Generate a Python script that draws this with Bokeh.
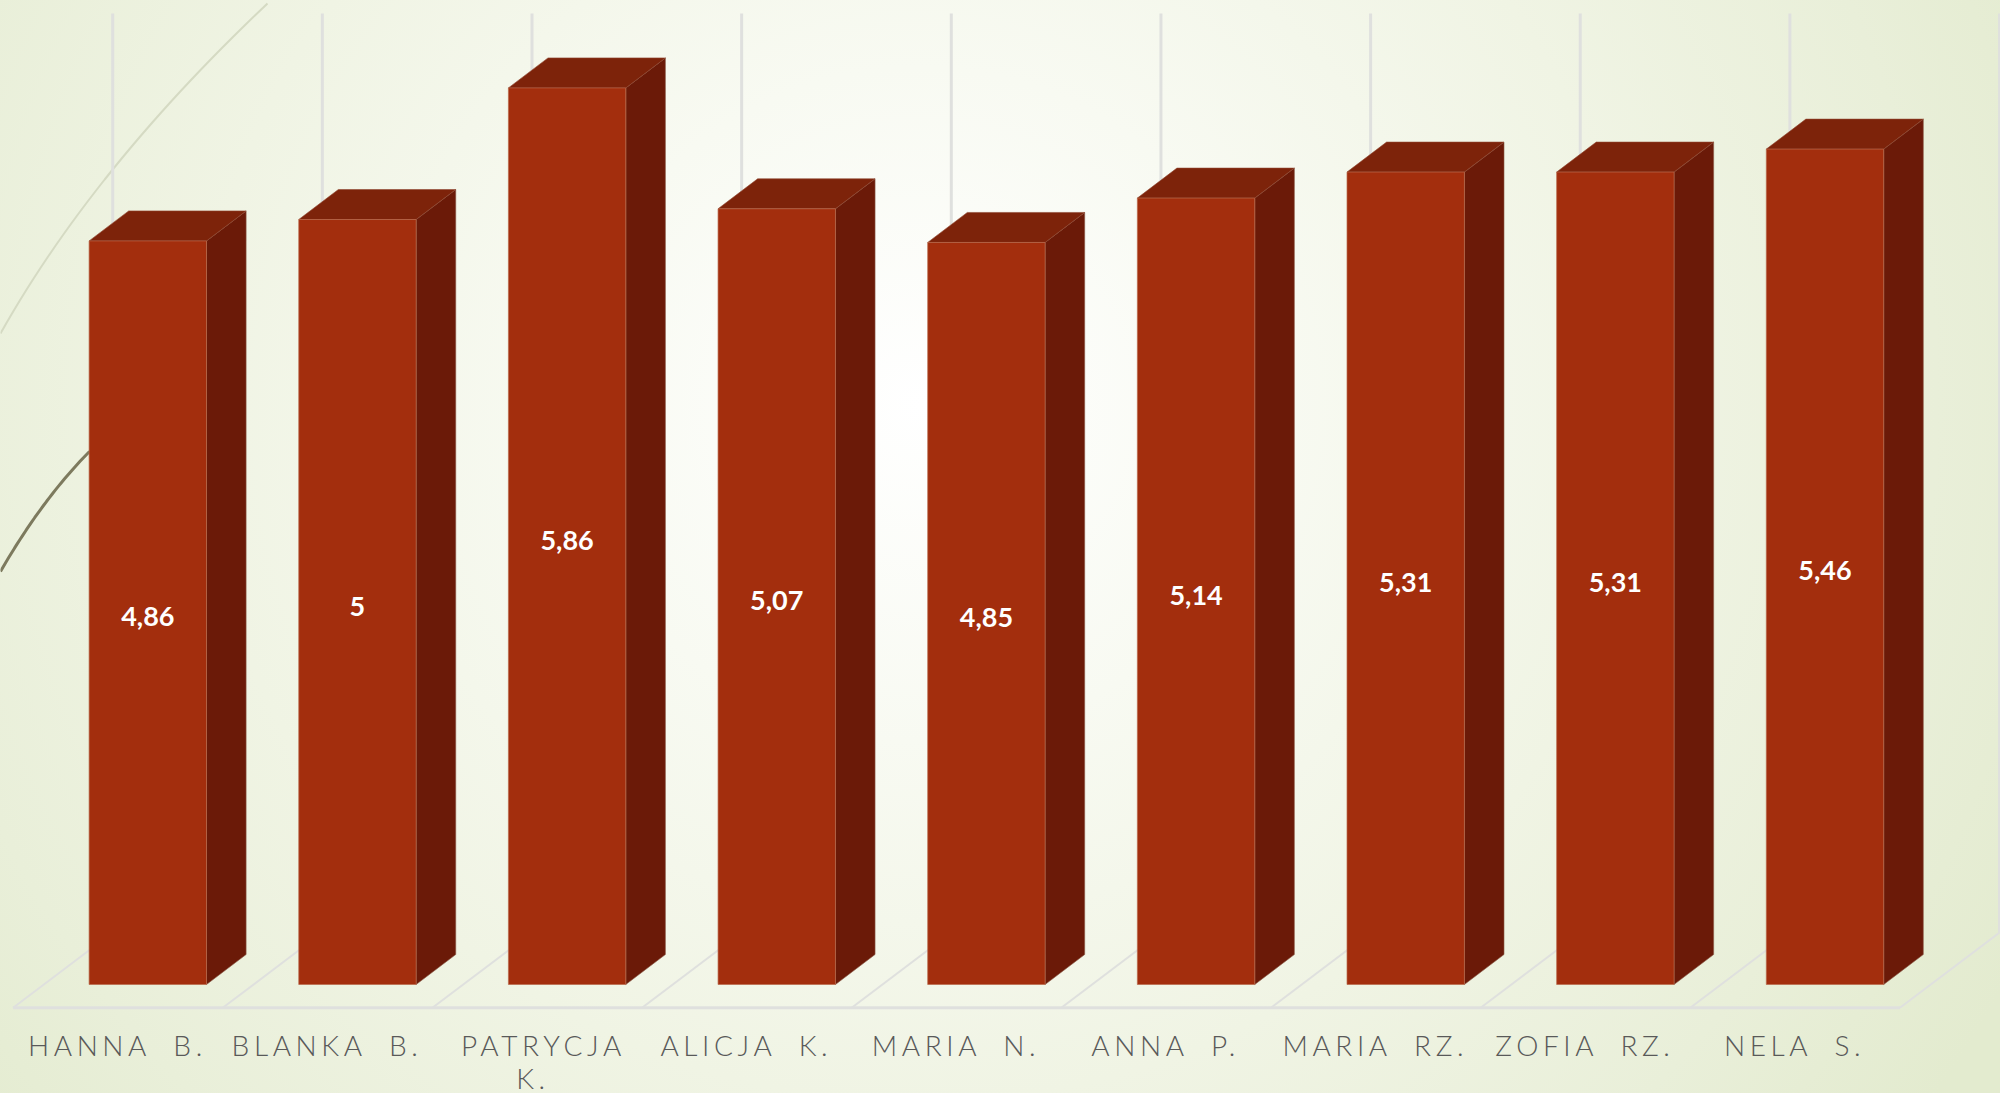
from bokeh.plotting import figure
from bokeh.layouts import column
from bokeh.embed import file_html
from bokeh.resources import INLINE
from bokeh.core.properties import value
from bokeh.models import Range1d

names = ["HANNA B.", "BLANKA B.", "PATRYCJA\nK.", "ALICJA K.", "MARIA N.", "ANNA P.", "MARIA RZ.", "ZOFIA RZ.", "NELA S."]
scores = [4.86, 5.00, 5.86, 5.07, 4.85, 5.14, 5.31, 5.31, 5.46]
score_labels = ["4,86", "5", "5,86", "5,07", "4,85", "5,14", "5,31", "5,31", "5,46"]

W, H = 2000, 1093
FRAME_H = 1012
X_STEP, X0 = 209.65, 147.3     # px per category, px of first bar centre
Y_UNIT, Y0 = 153.0, 984.0      # px per unit, px of value 0
BAR_W = 117.4 / X_STEP
DX, DY = 39.6 / X_STEP, 30.0 / Y_UNIT
LETTER, WORD = 4.6, 11         # label spacing, px
px = lambda x: (x - X0) / X_STEP
py = lambda y: (Y0 - y) / Y_UNIT


def curve(a, m, c, n=30):
    """Smooth decorative arc through three pixel positions."""
    ctrl = (2 * m[0] - (a[0] + c[0]) / 2, 2 * m[1] - (a[1] + c[1]) / 2)
    ts = [k / n for k in range(n + 1)]
    xs_ = [(1 - t) ** 2 * a[0] + 2 * t * (1 - t) * ctrl[0] + t ** 2 * c[0] for t in ts]
    ys_ = [(1 - t) ** 2 * a[1] + 2 * t * (1 - t) * ctrl[1] + t ** 2 * c[1] for t in ts]
    return [px(v) for v in xs_], [py(v) for v in ys_]


common = dict(output_backend="svg", toolbar_location=None, outline_line_color=None,
              background_fill_alpha=0, border_fill_alpha=0,
              min_border_left=0, min_border_right=0, min_border_top=0, min_border_bottom=0)

p = figure(width=W, height=FRAME_H, x_range=Range1d(px(0), px(W)), y_range=Range1d(py(FRAME_H), py(0)), **common)
p.grid.visible = False
p.axis.visible = False

# decorative curves of the slide
p.line(*curve((267, 3), (113, 168), (0, 333)), line_color="#d5dac3", line_width=2)
p.line(*curve((89, 451), (43, 505), (0, 571)), line_color="#7d7a5e", line_width=3)

# wall gridlines and floor
GRID, FLOOR_TOP, FLOOR_FRONT = "#dfe0de", 932, 1007.3
first = (112.2 - X0) / X_STEP
slant = 99.6 / X_STEP
for i in range(10):
    xb = first + i
    p.line([xb, xb], [py(FLOOR_TOP), py(13)], line_color=GRID, line_width=3)
    p.line([xb - slant, xb], [py(FLOOR_FRONT), py(FLOOR_TOP)], line_color=GRID, line_width=2)
p.line([first - slant, first - slant + 9], [py(FLOOR_FRONT)] * 2, line_color=GRID, line_width=3)

# 3D bars
xs = list(range(len(scores)))
side_x = [[x + BAR_W / 2, x + BAR_W / 2 + DX, x + BAR_W / 2 + DX, x + BAR_W / 2] for x in xs]
side_y = [[0, DY, v + DY, v] for v in scores]
top_x = [[x - BAR_W / 2, x - BAR_W / 2 + DX, x + BAR_W / 2 + DX, x + BAR_W / 2] for x in xs]
top_y = [[v, v + DY, v + DY, v] for v in scores]
p.patches(side_x, side_y, fill_color="#6b1a08", line_color="#8a5a48", line_alpha=0.6, line_width=1)
p.patches(top_x, top_y, fill_color="#7d230a", line_color="#8f4630", line_alpha=0.6, line_width=1)
p.vbar(x=xs, top=scores, bottom=0, width=BAR_W, fill_color="#a32e0d", line_color="#b9694c", line_alpha=0.7, line_width=1)

p.text(x=xs, y=[v / 2 for v in scores], text=score_labels, text_color="white",
       text_font=value("Lato"), text_font_style="bold", text_font_size="27px",
       text_align="center", text_baseline="middle", y_offset=4)

# category labels: a strip of its own, because only these are letter-spaced
q = figure(width=W, height=H - FRAME_H, x_range=Range1d(px(0), px(W)), y_range=Range1d(H - FRAME_H, 0), **common)
q.grid.visible = False
q.axis.visible = False
q.styles = {"letter-spacing": f"{LETTER}px", "word-spacing": f"{WORD}px"}
lx, ly, lt, lo = [], [], [], []
for i, name in zip(xs, names):
    rows = name.split("\n")
    for row, line in enumerate(rows):
        nudge = (-0.02 if row else 0.03) if len(rows) > 1 else 0
        lx.append(i - 0.143 + nudge)
        ly.append(32 + 33 * row)
        lt.append(line)
        lo.append(-(len(line) * LETTER + line.count(" ") * WORD) / 2)
q.text(x=lx, y=ly, text=lt, x_offset=lo, text_color="#595959",
       text_font=value("Lato Light"), text_font_size="28px", text_align="center", text_baseline="middle")

page = column(p, q, spacing=0)
page.styles = {"background": "radial-gradient(ellipse 62% 110% at 46% 37%, #ffffff 0%, #f8faf2 28%, #f0f4e4 58%, #e9efd9 82%, #e3ebcf 100%)"}

open("out.html", "w").write(file_html(page, INLINE))
